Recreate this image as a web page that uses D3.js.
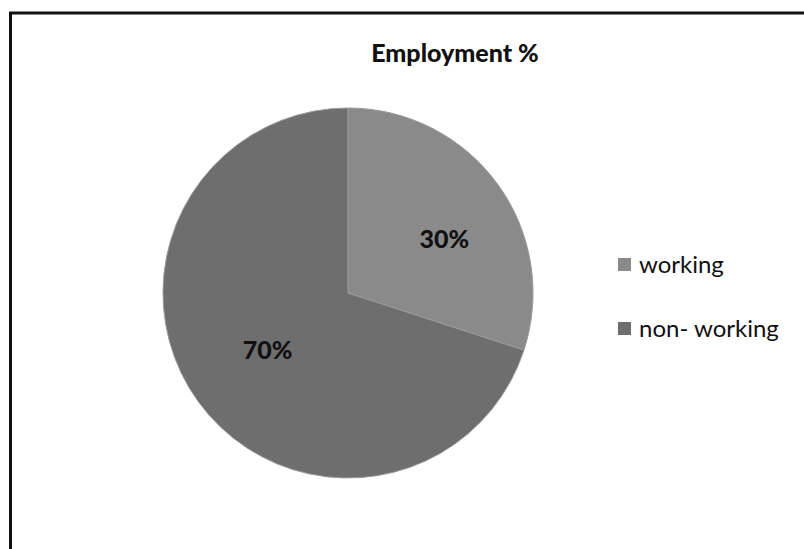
<!DOCTYPE html>
<html>
<head>
<meta charset="utf-8">
<script src="https://cdn.jsdelivr.net/npm/d3@7"></script>
<style>
  html, body { margin: 0; padding: 0; background: #fff; }
  svg { display: block; }
</style>
</head>
<body>
<div id="chart"></div>
<script>
// Employment share
const categories = ["working", "non- working"];
const values = [30, 70];
const labels = ["30%", "70%"];
const title = "Employment %";

const W = 804, H = 549;
const font = "Lato, 'Open Sans', sans-serif";

const svg = d3.select("#chart").append("svg")
  .attr("width", W).attr("height", H);

// frame
svg.append("rect")
  .attr("x", 10.5).attr("y", 13).attr("width", W + 20).attr("height", H + 20)
  .attr("fill", "#fff").attr("stroke", "#111").attr("stroke-width", 3);

svg.append("text")
  .attr("x", 455).attr("y", 62)
  .attr("text-anchor", "middle")
  .attr("font-family", font).attr("font-weight", 900)
  .attr("font-size", 25).attr("fill", "#111")
  .text(title);

const color = d3.scaleOrdinal().domain(categories).range(["#8a8a8a", "#6e6e6e"]);

const cx = 348, cy = 293, r = 185;
const pie = d3.pie().sort(null).value(d => d.value);
const arcs = pie(categories.map((c, i) => ({ cat: c, value: values[i], label: labels[i] })));
const arc = d3.arc().innerRadius(0).outerRadius(r);
const labelArc = d3.arc().innerRadius(r * 0.57).outerRadius(r * 0.57);
// small nudges for the in-slice labels
const labelNudge = [[11, 8], [5, -5]];

const g = svg.append("g").attr("transform", `translate(${cx},${cy})`);
g.selectAll("path").data(arcs).join("path")
  .attr("d", arc)
  .attr("fill", d => color(d.data.cat))
  .attr("stroke", "#9a9a9a").attr("stroke-width", 1);

g.selectAll("text").data(arcs).join("text")
  .attr("transform", d => {
    const [x, y] = labelArc.centroid(d);
    const [nx, ny] = labelNudge[d.index];
    return `translate(${x + nx},${y + ny})`;
  })
  .attr("text-anchor", "middle").attr("dy", "0.36em")
  .attr("font-family", font).attr("font-weight", 900)
  .attr("font-size", 25).attr("fill", "#111")
  .text(d => d.data.label);

// legend
const legend = svg.append("g").attr("transform", "translate(618,258)");
const item = legend.selectAll("g").data(categories).join("g")
  .attr("transform", (d, i) => `translate(0,${i * 64})`);
item.append("rect")
  .attr("width", 13).attr("height", 13)
  .attr("fill", d => color(d));
item.append("text")
  .attr("x", 21).attr("y", 15)
  .attr("font-family", font).attr("font-size", 24).attr("fill", "#111")
  .text(d => d);
</script>
</body>
</html>
